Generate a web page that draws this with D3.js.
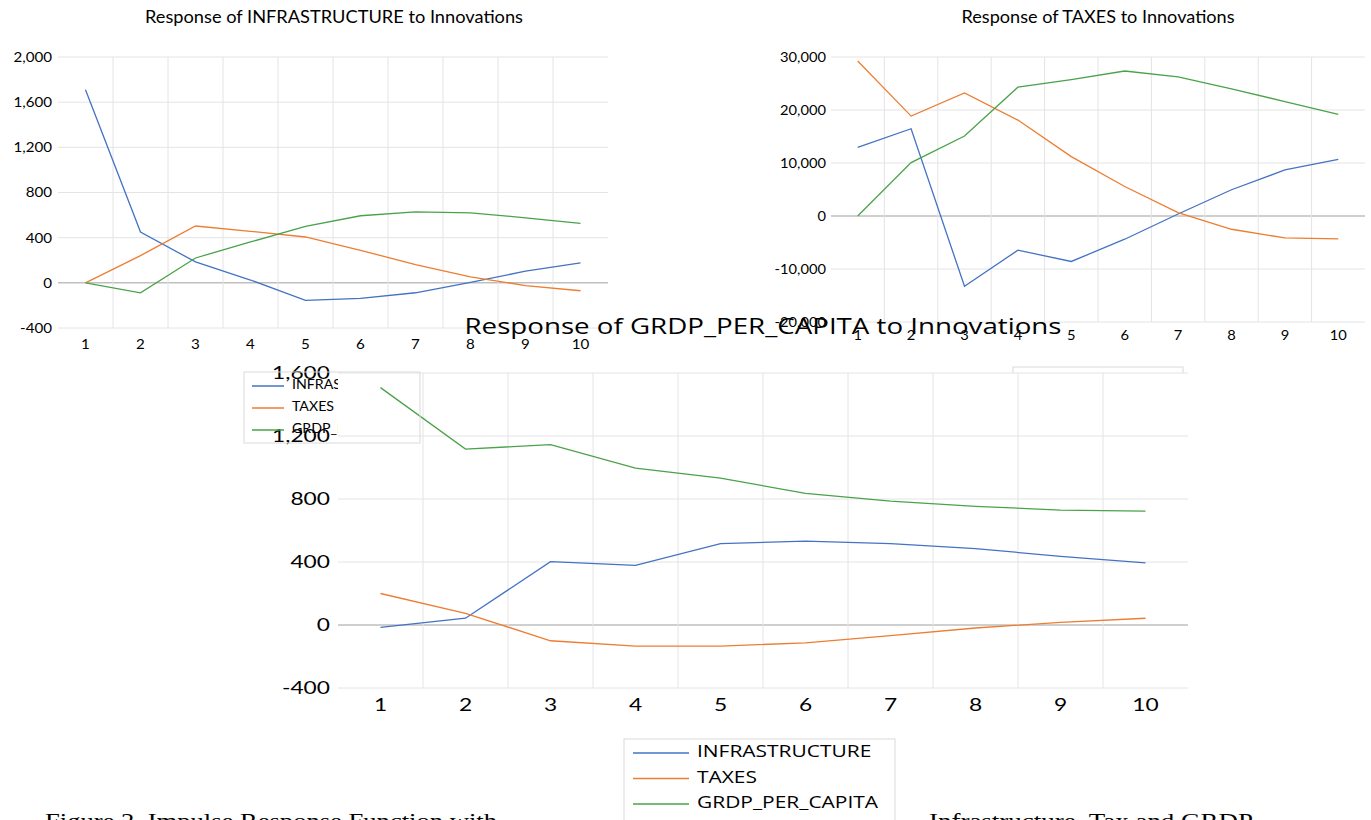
<!DOCTYPE html>
<html>
<head>
<meta charset="utf-8">
<script src="https://cdn.jsdelivr.net/npm/d3@7"></script>
<style>
  body { margin: 0; background: #fff; }
  svg { display: block; }
</style>
</head>
<body>
<div id="fig"></div>
<script>
// impulse responses, periods 1..10
const periods = [1, 2, 3, 4, 5, 6, 7, 8, 9, 10];
const seriesNames = ["INFRASTRUCTURE", "TAXES", "GRDP_PER_CAPITA"];

// Response of INFRASTRUCTURE to Innovations
const infraToInfra = [1710, 450, 185, 25, -156, -138, -88, 5, 103, 176];
const infraToTaxes = [0, 241, 503, 456, 406, 288, 162, 53, -24, -70];
const infraToGrdp = [0, -88, 220, 362, 500, 594, 629, 620, 576, 526];
const infraTicks = [-400, 0, 400, 800, 1200, 1600, 2000];

// Response of TAXES to Innovations
const taxesToInfra = [12960, 16470, -13270, -6450, -8580, -4380, 380, 4950, 8700, 10700];
const taxesToTaxes = [29240, 18850, 23230, 18100, 11210, 5570, 630, -2500, -4130, -4320];
const taxesToGrdp = [0, 10080, 15090, 24300, 25740, 27360, 26240, 23980, 21600, 19160];
const taxesTicks = [-20000, -10000, 0, 10000, 20000, 30000];

// Response of GRDP_PER_CAPITA to Innovations
const grdpToInfra = [-15, 43, 402, 379, 517, 532, 517, 485, 436, 394];
const grdpToTaxes = [200, 74, -100, -134, -134, -113, -68, -19, 17, 43];
const grdpToGrdp = [1507, 1117, 1145, 996, 932, 836, 787, 753, 730, 723];
const grdpTicks = [-400, 0, 400, 800, 1200, 1600];

const colors = ["#4472C4", "#ED7D31", "#4aa24a"];
const fmt = d => d3.format(",")(d).replace("\u2212", "-");

const svg = d3.select("#fig").append("svg")
    .attr("width", 1371)
    .attr("height", 820);

// widen text horizontally around its anchor (the source picture is stretched)
function stretch(sel, sx) {
    sel.attr("transform", function () {
        let x = +this.getAttribute("x") || 0;
        return `translate(${x * (1 - sx)},0) scale(${sx},1)`;
    });
}

function makeScales(c) {
    let x = d3.scaleBand().domain(periods).range([c.left, c.right]);
    let y = d3.scaleLinear().domain(d3.extent(c.ticks)).range([c.bottom, c.top]);
    return {x, y};
}

function drawGrid(g, c, s) {
    // horizontal gridlines
    g.selectAll(".hgrid").data(c.ticks).enter()
        .append("line")
        .attr("x1", c.left).attr("x2", c.right)
        .attr("y1", d => s.y(d)).attr("y2", d => s.y(d))
        .attr("stroke", d => d === 0 ? "#bfbfbf" : "#e4e4e4")
        .attr("stroke-width", d => d === 0 ? 1.5 : 1);
    // vertical gridlines between periods
    g.selectAll(".vgrid").data(periods.slice(1)).enter()
        .append("line")
        .attr("x1", d => s.x(d)).attr("x2", d => s.x(d))
        .attr("y1", c.top).attr("y2", c.bottom)
        .attr("stroke", "#e4e4e4");
}

function drawLines(g, s, series) {
    let line = d3.line()
        .x((d, i) => s.x(periods[i]) + s.x.bandwidth() / 2)
        .y(d => s.y(d));
    series.forEach((vals, i) => {
        g.append("path")
            .datum(vals)
            .attr("fill", "none")
            .attr("stroke", colors[i])
            .attr("stroke-width", 1.3)
            .attr("d", line);
    });
}

function drawAxes(g, c, s) {
    let ya = g.append("g")
        .attr("transform", `translate(${c.left - c.yPad},0)`)
        .call(d3.axisLeft(s.y).tickValues(c.ticks).tickFormat(fmt).tickSize(0).tickPadding(0));
    let xa = g.append("g")
        .attr("transform", `translate(0,${c.bottom + c.xPad})`)
        .call(d3.axisBottom(s.x).tickSize(0).tickPadding(0));
    [ya, xa].forEach(a => {
        a.select(".domain").remove();
        a.selectAll("text")
            .style("font-family", c.font)
            .style("font-size", c.fontSize + "px")
            .attr("fill", "#000")
            .call(stretch, c.sx);
    });
    xa.selectAll("text").attr("dy", "0.35em");
    g.append("text")
        .attr("x", c.titleX).attr("y", c.titleY)
        .attr("text-anchor", "middle")
        .attr("dominant-baseline", "middle")
        .attr("textLength", c.titleW)
        .attr("lengthAdjust", "spacingAndGlyphs")
        .style("font-family", c.titleFont)
        .style("font-size", c.titleSize + "px")
        .text(c.title);
}

function drawLegend(g, L) {
    g.append("rect")
        .attr("x", L.x).attr("y", L.y)
        .attr("width", L.w).attr("height", L.h)
        .attr("fill", L.fill)
        .attr("stroke", "#d9d9d9");
    let items = g.append("g").attr("clip-path", L.clip || null);
    seriesNames.forEach((name, i) => {
        let yy = L.y + L.first + i * L.step;
        items.append("line")
            .attr("x1", L.lineX).attr("x2", L.lineX + L.lineW)
            .attr("y1", yy).attr("y2", yy)
            .attr("stroke", colors[i])
            .attr("stroke-width", 1.5);
        items.append("text")
            .attr("x", L.textX).attr("y", yy)
            .attr("dominant-baseline", "middle")
            .style("font-family", L.font)
            .style("font-size", L.fontSize + "px")
            .text(name)
            .call(stretch, L.sx);
    });
}

// ---- top left: INFRASTRUCTURE
const cInfra = {left: 58, right: 608, top: 57, bottom: 328, ticks: infraTicks, yPad: 6, xPad: 16,
    font: "Lato, 'Open Sans', sans-serif", fontSize: 14, sx: 1.08,
    title: "Response of INFRASTRUCTURE to Innovations", titleX: 334, titleY: 18.5, titleW: 378,
    titleFont: "Lato, 'Open Sans', sans-serif", titleSize: 17};
const sInfra = makeScales(cInfra);
const gInfra = svg.append("g");
drawGrid(gInfra, cInfra, sInfra);
drawLines(gInfra, sInfra, [infraToInfra, infraToTaxes, infraToGrdp]);
drawAxes(gInfra, cInfra, sInfra);

// ---- top right: TAXES
const cTaxes = {left: 831, right: 1365, top: 57, bottom: 322, ticks: taxesTicks, yPad: 5, xPad: 13,
    font: "Lato, 'Open Sans', sans-serif", fontSize: 14, sx: 1.05,
    title: "Response of TAXES to Innovations", titleX: 1098, titleY: 18.5, titleW: 273,
    titleFont: "Lato, 'Open Sans', sans-serif", titleSize: 17};
const sTaxes = makeScales(cTaxes);
const gTaxes = svg.append("g");
drawGrid(gTaxes, cTaxes, sTaxes);
drawLines(gTaxes, sTaxes, [taxesToInfra, taxesToTaxes, taxesToGrdp]);
drawAxes(gTaxes, cTaxes, sTaxes);
drawLegend(gTaxes, {x: 1013, y: 367, w: 170, h: 78, fill: "#fff", first: 12, step: 22,
    lineX: 1022, lineW: 28, textX: 1058, font: "Lato, sans-serif", fontSize: 12, sx: 1.2});

// ---- bottom: GRDP_PER_CAPITA (overlaid, white plot area)
const cGrdp = {left: 338, right: 1188, top: 373, bottom: 688, ticks: grdpTicks, yPad: 8, xPad: 17,
    font: "Lato, 'Open Sans', sans-serif", fontSize: 17.5, sx: 1.3,
    title: "Response of GRDP_PER_CAPITA to Innovations", titleX: 763, titleY: 328, titleW: 597,
    titleFont: "'Open Sans', sans-serif", titleSize: 21};
const sGrdp = makeScales(cGrdp);
const gGrdp = svg.append("g");
gGrdp.append("rect")
    .attr("x", cGrdp.left).attr("y", cGrdp.top)
    .attr("width", cGrdp.right - cGrdp.left).attr("height", cGrdp.bottom - cGrdp.top)
    .attr("fill", "#fff");
drawGrid(gGrdp, cGrdp, sGrdp);

// legend of the top-left chart, its text cut by the bottom plot area
svg.append("clipPath").attr("id", "clipLeft")
    .append("rect").attr("x", 0).attr("y", 0).attr("width", 338).attr("height", 820);
drawLegend(svg.append("g"), {x: 244, y: 372, w: 176, h: 71, fill: "none", first: 14, step: 22,
    lineX: 252, lineW: 32, textX: 292, font: "Lato, sans-serif", fontSize: 13.5, sx: 1.05,
    clip: "url(#clipLeft)"});

drawLines(gGrdp, sGrdp, [grdpToInfra, grdpToTaxes, grdpToGrdp]);
drawAxes(gGrdp, cGrdp, sGrdp);
drawLegend(gGrdp, {x: 624, y: 739, w: 271, h: 100, fill: "#fff", first: 14, step: 25.5,
    lineX: 633, lineW: 56, textX: 697, font: "'Open Sans', sans-serif", fontSize: 16.5, sx: 1.27});

// figure caption, cut at the bottom edge
const caption = svg.append("g")
    .style("font-family", "'Liberation Serif', 'Times New Roman', serif")
    .style("font-size", "22px");
caption.append("text").attr("x", 45).attr("y", 828)
    .attr("textLength", 452).attr("lengthAdjust", "spacingAndGlyphs")
    .text("Figure 2. Impulse Response Function with");
caption.append("text").attr("x", 929).attr("y", 828)
    .attr("textLength", 324).attr("lengthAdjust", "spacingAndGlyphs")
    .text("Infrastructure, Tax and GRDP");
</script>
</body>
</html>
